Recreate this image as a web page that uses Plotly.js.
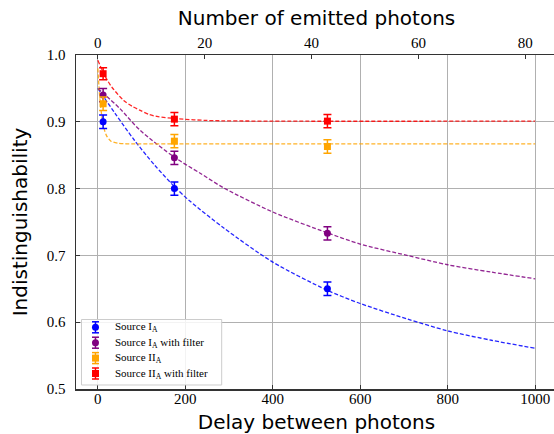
<!DOCTYPE html>
<html>
<head>
<meta charset="utf-8">
<script src="https://cdn.plot.ly/plotly-3.0.1.min.js"></script>
<style>
  html, body { margin: 0; padding: 0; overflow: hidden; background: #fff; }
  #chart { width: 560px; height: 434px; }
</style>
</head>
<body>
<div id="chart"></div>
<script>
// ---- measured data ----
const delays = [12, 175, 525];

const srcIA      = [0.900, 0.800, 0.650];
const srcIAf     = [0.940, 0.846, 0.733];
const srcIIA     = [0.927, 0.871, 0.863];
const srcIIAf    = [0.972, 0.904, 0.901];
const errIA      = [0.010, 0.010, 0.010];
const errIAf     = [0.010, 0.010, 0.010];
const errIIA     = [0.010, 0.010, 0.010];
const errIIAf    = [0.009, 0.010, 0.010];

// fit curves
const fitIA_x  = [0, 40, 84, 130, 175, 211, 288, 400, 524, 600, 707, 800, 900, 1000];
const fitIA_y  = [0.950, 0.912, 0.872, 0.835, 0.803, 0.781, 0.741, 0.690, 0.648, 0.628, 0.605, 0.587, 0.573, 0.561];
const fitIAf_x = [0, 50, 97, 175, 234, 288, 400, 524, 600, 707, 800, 900, 1000];
const fitIAf_y = [0.950, 0.920, 0.887, 0.847, 0.823, 0.801, 0.765, 0.734, 0.717, 0.700, 0.686, 0.675, 0.665];
const fitIIA_x = [0, 3, 6, 10, 15, 20, 30, 45, 70, 200, 1000];
const fitIIA_y = [0.980, 0.948, 0.925, 0.904, 0.888, 0.879, 0.871, 0.868, 0.867, 0.867, 0.867];
const fitIIAf_x = [0, 10, 21, 33, 59, 79, 97, 117, 135, 175, 250, 400, 1000];
const fitIIAf_y = [0.992, 0.977, 0.963, 0.951, 0.932, 0.923, 0.917, 0.911, 0.908, 0.905, 0.902, 0.901, 0.901];

const names = ['Source I<sub>A</sub>', 'Source I<sub>A</sub> with filter',
               'Source II<sub>A</sub>', 'Source II<sub>A</sub> with filter'];
const colors = ['#0000ff', '#800080', '#ffa500', '#ff0000'];
const symbols = ['circle', 'circle', 'square', 'square'];

const xTicks = [0, 200, 400, 600, 800, 1000];
const yTicks = [0.5, 0.6, 0.7, 0.8, 0.9, 1.0];
const topTicks = [0, 20, 40, 60, 80];
const delayPerPhoton = 12.22;
const xRange = [-50, 1050];

const serif = 'Liberation Serif, Times New Roman, serif';
const sans = 'DejaVu Sans, sans-serif';

const pts = [
  {y: srcIA, e: errIA},
  {y: srcIAf, e: errIAf},
  {y: srcIIA, e: errIIA},
  {y: srcIIAf, e: errIIAf}
];
const fits = [
  {x: fitIA_x, y: fitIA_y},
  {x: fitIAf_x, y: fitIAf_y},
  {x: fitIIA_x, y: fitIIA_y},
  {x: fitIIAf_x, y: fitIIAf_y}
];

const traces = [];
fits.forEach((f, i) => {
  traces.push({
    x: f.x, y: f.y, type: 'scatter', mode: 'lines',
    line: {color: colors[i], width: 1.3, dash: '4px,2px', shape: 'spline', smoothing: 0.8},
    opacity: 0.85, showlegend: false, hoverinfo: 'skip'
  });
});
pts.forEach((p, i) => {
  traces.push({
    x: delays, y: p.y, type: 'scatter', mode: 'markers', name: names[i],
    marker: {color: colors[i], size: 7, symbol: symbols[i]},
    error_y: {type: 'data', array: p.e, visible: true, color: colors[i], thickness: 1.5, width: 4},
    showlegend: false
  });
});
// invisible trace to activate the top axis
traces.push({x: [0], y: [0.2], xaxis: 'x2', yaxis: 'y', mode: 'markers',
  marker: {opacity: 0}, showlegend: false, hoverinfo: 'skip'});

// ---- hand-built legend (matplotlib-like compact spacing) ----
const lg = {x0: 0.0114, x1: 0.3029, y0: 0.012, y1: 0.2081,
            markerX: 0.0405, textX: 0.0775, firstY: 0.1847, step: 0.0461};
const shapes = [{
  type: 'rect', xref: 'paper', yref: 'paper', layer: 'above',
  x0: lg.x0, x1: lg.x1, y0: lg.y0, y1: lg.y1,
  fillcolor: 'rgba(255,255,255,0.85)', line: {color: '#cccccc', width: 1}
}];
const annotations = [];
names.forEach((nm, i) => {
  const yy = lg.firstY - i * lg.step;
  const base = {xref: 'paper', yref: 'paper', layer: 'above',
                xsizemode: 'pixel', ysizemode: 'pixel', xanchor: lg.markerX, yanchor: yy};
  // error bar in legend
  shapes.push(Object.assign({type: 'line', x0: 0, x1: 0, y0: -5.5, y1: 5.5,
    line: {color: colors[i], width: 1.5}}, base));
  shapes.push(Object.assign({type: 'line', x0: -3.5, x1: 3.5, y0: 5.5, y1: 5.5,
    line: {color: colors[i], width: 1.5}}, base));
  shapes.push(Object.assign({type: 'line', x0: -3.5, x1: 3.5, y0: -5.5, y1: -5.5,
    line: {color: colors[i], width: 1.5}}, base));
  shapes.push(Object.assign({type: symbols[i] === 'circle' ? 'circle' : 'rect',
    x0: -3.5, x1: 3.5, y0: -3.5, y1: 3.5,
    fillcolor: colors[i], line: {color: colors[i], width: 0}}, base));
  annotations.push({
    xref: 'paper', yref: 'paper', x: lg.textX, y: yy, xanchor: 'left', yanchor: 'middle',
    text: nm, showarrow: false, font: {family: serif, size: 11, color: '#000'}
  });
});

const layout = {
  width: 560, height: 434,
  margin: {l: 76, r: 3, t: 55, b: 45},
  paper_bgcolor: '#fff', plot_bgcolor: '#fff',
  showlegend: false,
  shapes: shapes,
  annotations: annotations,
  xaxis: {
    range: xRange, tickvals: xTicks, ticktext: xTicks.map(String),
    ticks: 'inside', ticklen: 4, tickwidth: 1, tickcolor: '#333',
    showline: true, linecolor: '#333', linewidth: 1.5,
    showgrid: true, gridcolor: '#b0b0b0', gridwidth: 1, zeroline: false,
    tickfont: {family: serif, size: 15, color: '#000'},
    ticklabelstandoff: -5,
    title: {text: 'Delay between photons', font: {family: sans, size: 20, color: '#000'}, standoff: 11},
    automargin: false
  },
  xaxis2: {
    overlaying: 'x', side: 'top', anchor: 'y',
    range: [xRange[0] / delayPerPhoton, xRange[1] / delayPerPhoton],
    tickvals: topTicks, ticktext: topTicks.map(String),
    ticks: 'inside', ticklen: 4, tickwidth: 1, tickcolor: '#333',
    showline: true, linecolor: '#333', linewidth: 1.5,
    showgrid: false, zeroline: false,
    tickfont: {family: serif, size: 15, color: '#000'},
    ticklabelstandoff: 0,
    title: {text: 'Number of emitted photons', font: {family: sans, size: 20, color: '#000'}, standoff: 3},
    automargin: false
  },
  yaxis: {
    range: [0.5, 1.0], tickvals: yTicks, ticktext: yTicks.map(v => v.toFixed(1)),
    ticks: 'inside', ticklen: 4, tickwidth: 1, tickcolor: '#333',
    showline: true, linecolor: '#333', linewidth: 1.5,
    showgrid: true, gridcolor: '#b0b0b0', gridwidth: 1, zeroline: false,
    tickfont: {family: serif, size: 15, color: '#000'},
    ticklabelstandoff: 6,
    title: {text: 'Indistinguishability', font: {family: sans, size: 20, color: '#000'}, standoff: 14},
    automargin: false
  }
};

Plotly.newPlot('chart', traces, layout, {displayModeBar: false, staticPlot: true});
</script>
</body>
</html>
